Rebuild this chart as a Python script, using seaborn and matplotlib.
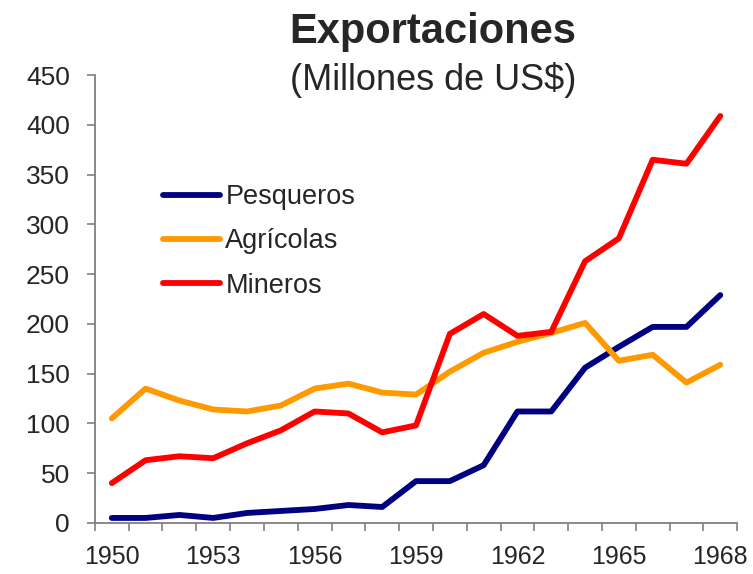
import pandas as pd
import numpy as np
import matplotlib
matplotlib.use("Agg")
import matplotlib.pyplot as plt
import seaborn as sns

# values (millions of US$)
years = list(range(1950, 1969))
pesqueros = [5, 5, 8, 5, 10, 12, 14, 18, 16, 42, 42, 58, 112, 112, 156, 177, 197, 197, 229]
agricolas = [105, 135, 123, 114, 112, 118, 135, 140, 131, 129, 152, 171, 182, 191, 201, 163, 169, 141, 159]
mineros = [40, 63, 67, 65, 80, 93, 112, 110, 91, 98, 190, 210, 188, 192, 263, 286, 365, 361, 409]
series_names = ["Pesqueros", "Agrícolas", "Mineros"]
colors = ["#000080", "#FF9900", "#FF0000"]
label_years = [1950, 1953, 1956, 1959, 1962, 1965, 1968]

# long form table for seaborn
df = pd.DataFrame({
    "year": years * 3,
    "value": pesqueros + agricolas + mineros,
    "serie": [series_names[0]] * len(years) + [series_names[1]] * len(years) + [series_names[2]] * len(years),
})

sns.set_style("white")
plt.rcParams["font.family"] = ["Liberation Sans", "DejaVu Sans"]

fig = plt.figure(figsize=(7.53, 5.74), dpi=100)
ax = fig.add_axes([0.126, 0.089, 0.853, 0.780])

sns.lineplot(data=df, x="year", y="value", hue="serie", hue_order=series_names,
             palette=colors, linewidth=4.2, ax=ax, legend=True)

ax.set_xlim(1949.5, 1968.5)
ax.set_ylim(0, 450)
ax.set_yticks(np.arange(0, 451, 50))
ax.set_xlabel("")
ax.set_ylabel("")

# category-style axis: tick marks between years, labels on every 3rd year
ax.set_xticks(np.arange(1949.5, 1969, 1))
ax.set_xticklabels([])
ax.set_xticks(label_years, minor=True)
ax.set_xticklabels([str(y) for y in label_years], minor=True)
ax.tick_params(axis="x", which="major", direction="out", length=6, width=1.2, color="#808080", bottom=True)
ax.tick_params(axis="x", which="minor", length=0, pad=16, labelsize=18)
ax.tick_params(axis="y", direction="out", length=6, width=1.2, color="#808080", pad=12, labelsize=19, left=True)

sns.despine(ax=ax)
for side in ["left", "bottom"]:
    ax.spines[side].set_color("#808080")
    ax.spines[side].set_linewidth(1.3)

leg = ax.legend(loc="upper left", bbox_to_anchor=(0.106, 0.757), frameon=False,
                fontsize=19.5, handlelength=2.1, handletextpad=0.2, labelspacing=0.68,
                borderpad=0, borderaxespad=0)
for line in leg.get_lines():
    line.set_linewidth(4.2)

fig.text(0.575, 0.925, "Exportaciones", ha="center", va="baseline", fontsize=30, fontweight="bold")
fig.text(0.575, 0.843, "(Millones de US$)", ha="center", va="baseline", fontsize=26)

fig.savefig("out.png", dpi=100)
